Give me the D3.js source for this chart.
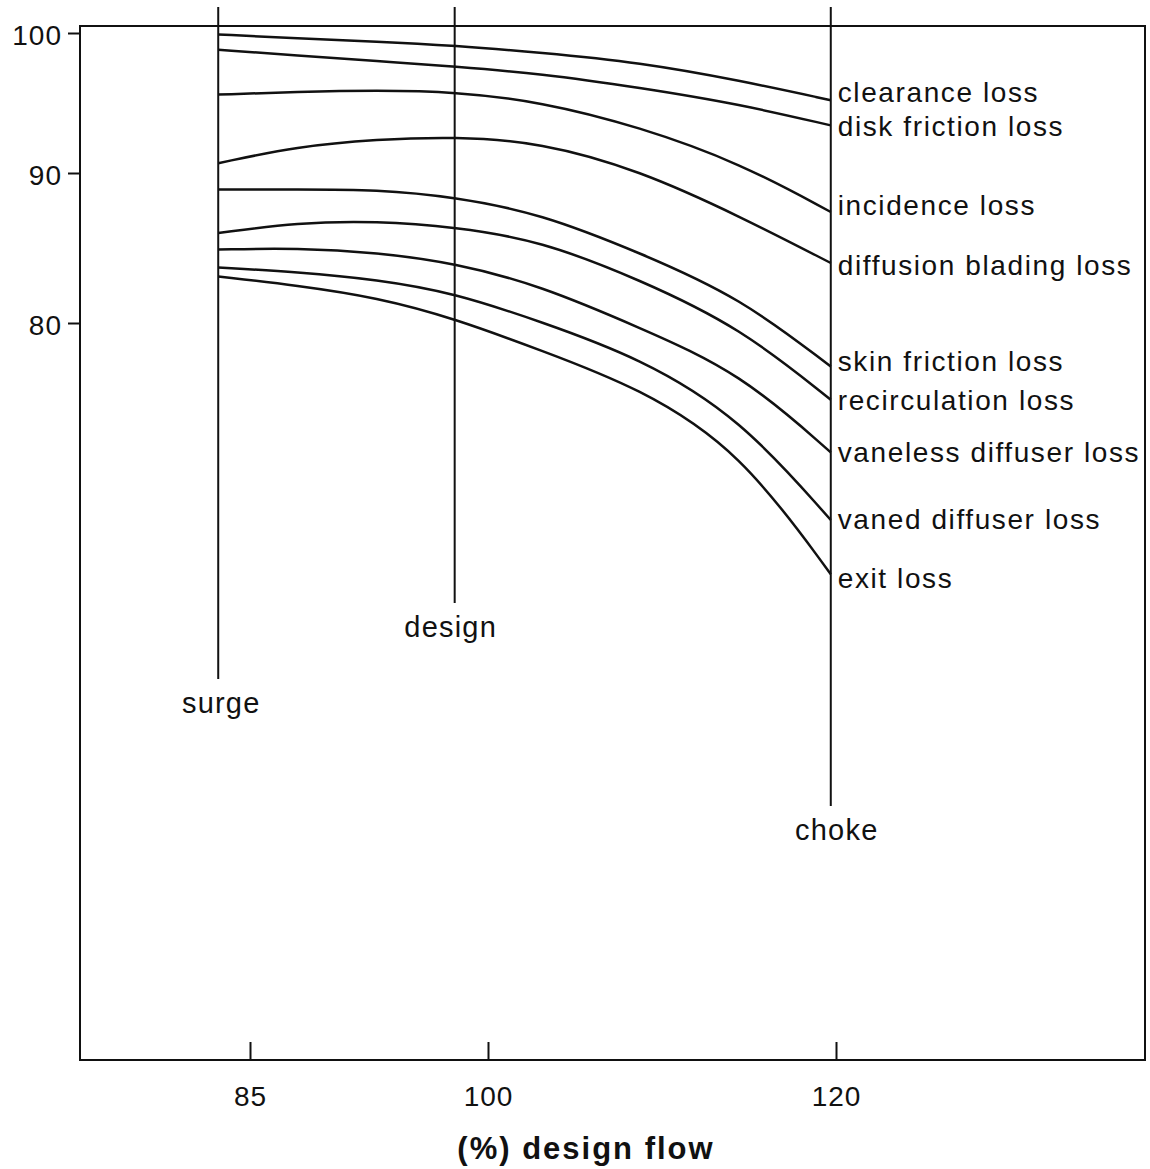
<!DOCTYPE html>
<html>
<head>
<meta charset="utf-8">
<script src="https://cdn.jsdelivr.net/npm/d3@7"></script>
<style>
	body { margin: 0; background: #fff; }
	text { font-family: "Liberation Sans", Arial, Helvetica, sans-serif; fill: #111; }
</style>
</head>
<body>
<div id="visHolder"></div>
<script>
// flow points (% design flow) where curves were read
const flowPoints = [83, 88, 93, 97.9, 103, 108.7, 114.5, 119.7];

// efficiency (%) after each loss, top to bottom
const clearanceLoss = [99.9, 99.6, 99.4, 99.1, 98.6, 97.9, 96.6, 95.2];
const diskFrictionLoss = [98.8, 98.4, 98.0, 97.6, 97.1, 96.1, 94.9, 93.4];
const incidenceLoss = [95.6, 95.8, 95.9, 95.8, 95.1, 93.3, 90.7, 87.4];
const diffusionBladingLoss = [90.7, 91.9, 92.4, 92.6, 92.2, 90.2, 87.1, 84.0];
const skinFrictionLoss = [88.9, 88.9, 88.9, 88.4, 87.3, 84.7, 81.7, 77.1];
const recirculationLoss = [86.0, 86.7, 86.8, 86.4, 85.5, 82.9, 79.7, 74.9];
const vanelessDiffuserLoss = [84.9, 85.0, 84.7, 84.0, 82.5, 79.7, 76.7, 71.4];
const vanedDiffuserLoss = [83.7, 83.4, 82.9, 82.0, 80.1, 77.7, 73.7, 66.9];
const exitLoss = [83.1, 82.5, 81.7, 80.3, 78.2, 75.7, 71.5, 63.3];

const lossNames = [
	"clearance loss",
	"disk friction loss",
	"incidence loss",
	"diffusion blading loss",
	"skin friction loss",
	"recirculation loss",
	"vaneless diffuser loss",
	"vaned diffuser loss",
	"exit loss",
];
const lossValues = [
	clearanceLoss,
	diskFrictionLoss,
	incidenceLoss,
	diffusionBladingLoss,
	skinFrictionLoss,
	recirculationLoss,
	vanelessDiffuserLoss,
	vanedDiffuserLoss,
	exitLoss,
];

// operating points marked with vertical lines
const markerNames = ["surge", "design", "choke"];
const markerFlows = [83, 97.9, 119.7];

const xTicks = [85, 100, 120];
const yTicks = [80, 90, 100];
const xTitle = "(%) design flow";

const width = 1150;
const height = 1169;

// the scanned original is not quite linear, so the scales are piecewise
const xExtent = [74.3, 137.8];
const yExtent = [31, 100.5];
const x = d3
	.scaleLinear()
	.domain([xExtent[0], 85, 100, 120, xExtent[1]])
	.range([80, 250, 488, 836, 1145]);
const y = d3
	.scaleLinear()
	.domain([yExtent[0], 80, 90, yExtent[1]])
	.range([1060, 323, 173, 26]);

const svg = d3
	.select("#visHolder")
	.append("svg")
	.attr("width", width)
	.attr("height", height)
	.attr("viewBox", [0, 0, width, height]);

//frame
svg
	.append("rect")
	.attr("x", x(xExtent[0]))
	.attr("y", y(yExtent[1]))
	.attr("width", x(xExtent[1]) - x(xExtent[0]))
	.attr("height", y(yExtent[0]) - y(yExtent[1]))
	.attr("fill", "none")
	.attr("stroke", "#111")
	.attr("stroke-width", 2);

//axes
const xAxis = svg
	.append("g")
	.attr("transform", `translate(0,${y(yExtent[0])})`)
	.call(
		d3
			.axisBottom(x)
			.tickValues(xTicks)
			.tickSizeInner(-18)
			.tickSizeOuter(0)
			.tickPadding(26)
	);
xAxis.select(".domain").remove();
xAxis.selectAll(".tick line").attr("stroke", "#111").attr("stroke-width", 2);
xAxis
	.selectAll(".tick text")
	.attr("font-size", 28)
	.attr("letter-spacing", 1);

const yAxis = svg
	.append("g")
	.attr("transform", `translate(${x(xExtent[0])},0)`)
	.call(
		d3.axisLeft(y).tickValues(yTicks).tickSizeInner(12).tickSizeOuter(0).tickPadding(6)
	);
yAxis.select(".domain").remove();
yAxis.selectAll(".tick line").attr("stroke", "#111").attr("stroke-width", 2);
yAxis
	.selectAll(".tick text")
	.attr("font-size", 28)
	.attr("letter-spacing", 1)
	.attr("dy", "0.4em");

svg
	.append("text")
	.attr("x", 586)
	.attr("y", 1159)
	.attr("text-anchor", "middle")
	.attr("font-size", 31)
	.attr("font-weight", "bold")
	.attr("letter-spacing", 2)
	.text(xTitle);

//vertical marker lines
const markerLabelY = [703, 627, 830];
const markerLabelShift = [3, -4, 6];
const markers = markerNames.map((name, i) => ({
	name,
	flow: markerFlows[i],
	labelY: markerLabelY[i],
	shift: markerLabelShift[i],
}));

const markerGroup = svg.append("g");
markerGroup
	.selectAll("line")
	.data(markers)
	.join("line")
	.attr("x1", (d) => x(d.flow))
	.attr("x2", (d) => x(d.flow))
	.attr("y1", 7)
	.attr("y2", (d) => d.labelY - 24)
	.attr("stroke", "#111")
	.attr("stroke-width", 2);
markerGroup
	.selectAll("text")
	.data(markers)
	.join("text")
	.attr("x", (d) => x(d.flow) + d.shift)
	.attr("y", (d) => d.labelY)
	.attr("dy", "0.35em")
	.attr("text-anchor", "middle")
	.attr("font-size", 29)
	.attr("letter-spacing", 1.2)
	.text((d) => d.name);

//loss curves
const series = lossNames.map((name, i) => ({
	name,
	points: flowPoints.map((f, j) => [f, lossValues[i][j]]),
}));

const line = d3
	.line()
	.x((d) => x(d[0]))
	.y((d) => y(d[1]))
	.curve(d3.curveBasis);

const curveGroup = svg.append("g");
curveGroup
	.selectAll("path")
	.data(series)
	.join("path")
	.attr("d", (d) => line(d.points))
	.attr("fill", "none")
	.attr("stroke", "#111")
	.attr("stroke-width", 2.5);

// small nudges so neighbouring labels do not collide
const labelNudge = [-7, 2, -5, 4, -4, 2, 1, 1, 5];
curveGroup
	.selectAll("text")
	.data(series)
	.join("text")
	.attr("x", (d) => x(d.points[d.points.length - 1][0]) + 7)
	.attr("y", (d, i) => y(d.points[d.points.length - 1][1]) + labelNudge[i])
	.attr("dy", "0.3em")
	.attr("font-size", 28)
	.attr("letter-spacing", 1.6)
	.text((d) => d.name);
</script>
</body>
</html>
